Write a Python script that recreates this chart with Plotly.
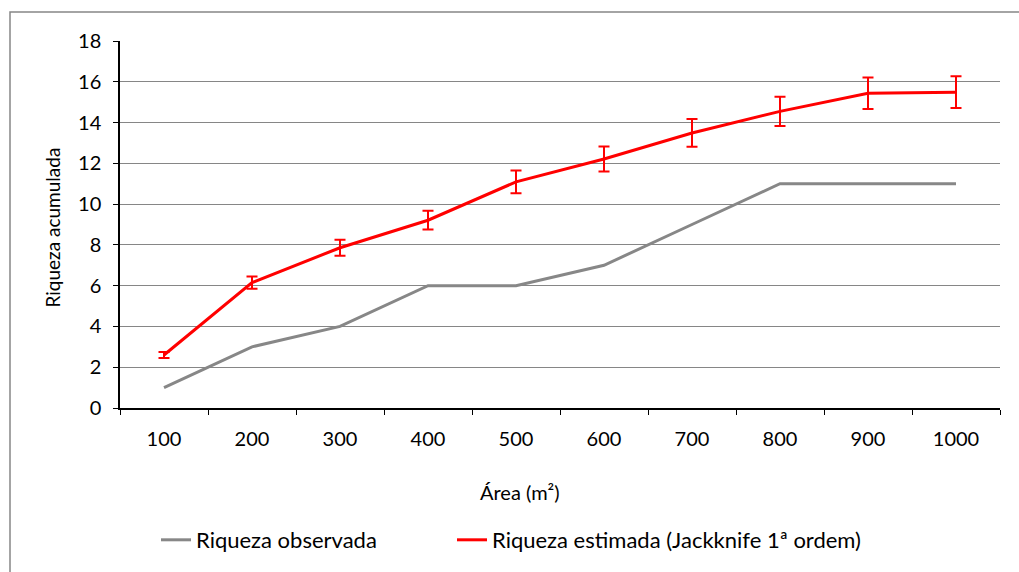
import plotly.graph_objects as go

areas = ["100", "200", "300", "400", "500", "600", "700", "800", "900", "1000"]
observada = [1, 3, 4, 6, 6, 7, 9, 11, 11, 11]
estimada = [2.6, 6.15, 7.86, 9.21, 11.09, 12.21, 13.49, 14.55, 15.44, 15.49]
erro = [0.15, 0.3, 0.39, 0.46, 0.56, 0.61, 0.68, 0.72, 0.77, 0.78]

FONT = "Lato"
fig = go.Figure()
fig.add_trace(go.Scatter(
    x=areas, y=observada, mode="lines", name="Riqueza observada",
    line=dict(color="#878787", width=3), legend="legend"))
fig.add_trace(go.Scatter(
    x=areas, y=estimada, mode="lines", name="Riqueza estimada (Jackknife 1ª ordem)",
    line=dict(color="#FF0000", width=3), legend="legend2",
    error_y=dict(type="data", array=erro, visible=True, color="#FF0000",
                 thickness=2, width=5.5)))

leg_common = dict(orientation="h", yanchor="middle", y=-0.356, xanchor="left",
                  font=dict(size=22), bgcolor="rgba(0,0,0,0)")

fig.update_layout(
    width=1019, height=572,
    margin=dict(l=120, r=19, t=41, b=163),
    paper_bgcolor="white", plot_bgcolor="white",
    font=dict(family=FONT, size=20, color="#000000"),
    showlegend=True,
    legend=dict(x=(156 - 120) / 880, **leg_common),
    legend2=dict(x=(452 - 120) / 880, **leg_common),
    xaxis=dict(type="category", tickson="boundaries", ticks="outside", ticklen=5,
               tickcolor="#000", showline=True, linecolor="#000", linewidth=1.5,
               showgrid=False, tickfont=dict(size=20), ticklabelstandoff=12,
               range=[-0.5, 9.5]),
    yaxis=dict(range=[0, 18], dtick=2, ticks="outside", ticklen=5, tickcolor="#000",
               showline=True, linecolor="#000", linewidth=1.5, showgrid=True,
               gridcolor="#868686", gridwidth=1, zeroline=False,
               tickfont=dict(size=20), ticklabelstandoff=8),
    shapes=[dict(type="rect", xref="paper", yref="paper", x0=-0.125, x1=1.03,
                 y0=-0.47, y1=1.0788, line=dict(color="#868686", width=1.5),
                 layer="below")],
    annotations=[
        dict(text="Riqueza acumulada", xref="paper", yref="paper",
             x=(52 - 120) / 880, y=(409 - 228) / 368, textangle=-90, showarrow=False,
             xanchor="center", yanchor="middle", font=dict(size=19)),
        dict(text="Área (m²)", xref="paper", yref="paper",
             x=(520 - 120) / 880, y=(409 - 493) / 368, showarrow=False,
             xanchor="center", yanchor="middle", font=dict(size=20)),
    ],
)

fig.write_html("out.html")
